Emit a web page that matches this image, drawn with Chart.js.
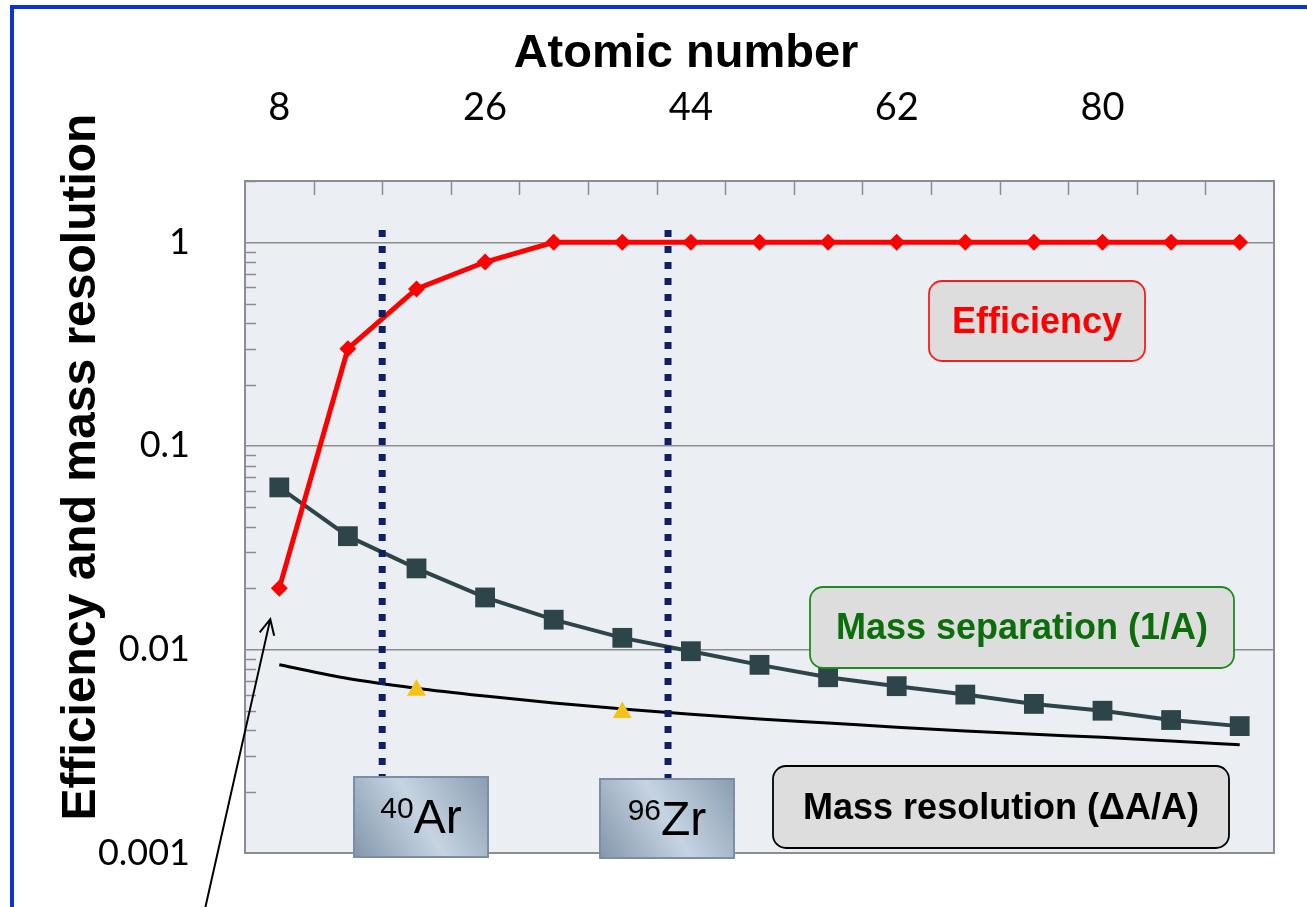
<!DOCTYPE html>
<html><head><meta charset="utf-8">
<script src="https://cdn.jsdelivr.net/npm/chart.js@4.4.1/dist/chart.umd.min.js"></script>
<style>html,body{margin:0;padding:0;background:#fff;overflow:hidden}</style>
</head><body>
<canvas id="c" width="1307" height="907"></canvas>
<script>
// ---- data ----
const atomicNumbers = [8, 14, 20, 26, 32, 38, 44, 50, 56, 62, 68, 74, 80, 86, 92];
const efficiency = [0.02, 0.30, 0.59, 0.80, 1, 1, 1, 1, 1, 1, 1, 1, 1, 1, 1];
const massSeparation = [0.0625, 0.036, 0.025, 0.018, 0.014, 0.0114, 0.0098, 0.0084, 0.0073, 0.0066, 0.006, 0.0054, 0.005, 0.0045, 0.0042];
const massResolution = [0.0084, 0.0072, 0.00645, 0.0059, 0.00545, 0.0051, 0.0048, 0.00455, 0.00435, 0.00415, 0.00398, 0.00383, 0.0037, 0.00355, 0.0034];
const measuredZ = [20, 38];
const measuredResolution = [0.0063, 0.0049];
const xTickLabels = [8, 26, 44, 62, 80];
const xMinorTicks = [11, 17, 23, 29, 35, 41, 47, 53, 59, 65, 71, 77, 83, 89];
const yTickValues = [0.001, 0.01, 0.1, 1];
const yTickLabels = ['0.001', '0.01', '0.1', '1'];
const markerZ = [17, 42];
const markerMass = ['40', '96'];
const markerElement = ['Ar', 'Zr'];
const xTitle = 'Atomic number';
const yTitle = 'Efficiency and mass resolution';
const seriesNames = ['Efficiency', 'Mass separation (1/A)', 'Mass resolution (\u0394A/A)'];

const SANS = "'Liberation Sans', Arial, sans-serif";

function pts(xs, ys) { return xs.map((x, i) => ({x: x, y: ys[i]})); }

const decor = {
  id: 'decor',
  beforeDraw(chart) {
    const ctx = chart.ctx, a = chart.chartArea;
    ctx.save();
    ctx.fillStyle = '#ffffff';
    ctx.fillRect(0, 0, chart.width, chart.height);
    ctx.fillStyle = '#ebeff4';
    ctx.fillRect(a.left, a.top, a.right - a.left, a.bottom - a.top);
    ctx.strokeStyle = '#0a34d2';
    ctx.lineWidth = 4;
    ctx.beginPath();
    ctx.moveTo(12, chart.height + 5);
    ctx.lineTo(12, 7);
    ctx.lineTo(chart.width + 5, 7);
    ctx.stroke();
    ctx.restore();
  },
  beforeDatasetsDraw(chart) {
    const ctx = chart.ctx, a = chart.chartArea;
    const xs = chart.scales.x, ys = chart.scales.y;
    ctx.save();
    ctx.strokeStyle = '#8c8c8c';
    ctx.lineWidth = 1.5;
    ctx.beginPath();
    for (let d = 0; d < yTickValues.length; d++) {
      for (let m = 2; m <= 9; m++) {
        const v = yTickValues[d] * m;
        if (v > ys.max) continue;
        const py = Math.round(ys.getPixelForValue(v)) + 0.5;
        ctx.moveTo(a.left, py);
        ctx.lineTo(a.left + 11, py);
      }
    }
    xMinorTicks.forEach(z => {
      const px = Math.round(xs.getPixelForValue(z)) + 0.5;
      ctx.moveTo(px, a.top);
      ctx.lineTo(px, a.top + 14);
    });
    ctx.stroke();
    ctx.restore();
  },
  afterDatasetsDraw(chart) {
    const ctx = chart.ctx, a = chart.chartArea;
    const xs = chart.scales.x, ys = chart.scales.y;
    ctx.save();
    ctx.strokeStyle = '#0d2160';
    ctx.lineWidth = 7;
    ctx.lineCap = 'butt';
    ctx.setLineDash([7, 9]);
    markerZ.forEach(z => {
      const px = xs.getPixelForValue(z);
      ctx.beginPath();
      ctx.moveTo(px, ys.getPixelForValue(1.15));
      ctx.lineTo(px, a.bottom - 75);
      ctx.stroke();
    });
    ctx.setLineDash([]);
    ctx.strokeStyle = '#8a8d96';
    ctx.lineWidth = 2;
    ctx.strokeRect(a.left, a.top, a.right - a.left, a.bottom - a.top);

    const boxes = [
      {l: a.left + 109, t: a.bottom - 76, w: 134, h: 80},
      {l: a.left + 355, t: a.bottom - 74, w: 134, h: 79}
    ];
    boxes.forEach((b, i) => {
      const g = ctx.createLinearGradient(b.l, b.t + b.h, b.l + b.w, b.t);
      g.addColorStop(0, '#8396ab');
      g.addColorStop(0.5, '#c6d4e2');
      g.addColorStop(1, '#8a9db2');
      ctx.fillStyle = g;
      ctx.fillRect(b.l, b.t, b.w, b.h);
      ctx.strokeStyle = '#7b8ea5';
      ctx.lineWidth = 2;
      ctx.strokeRect(b.l, b.t, b.w, b.h);
      ctx.fillStyle = '#000';
      ctx.textBaseline = 'alphabetic';
      ctx.textAlign = 'left';
      ctx.font = '30px ' + SANS;
      const sw = ctx.measureText(markerMass[i]).width;
      ctx.font = '48px ' + SANS;
      const ew = ctx.measureText(markerElement[i]).width;
      const x0 = b.l + (b.w - sw - ew) / 2;
      ctx.font = '30px ' + SANS;
      ctx.fillText(markerMass[i], x0, b.t + 41);
      ctx.font = '48px ' + SANS;
      ctx.fillText(markerElement[i], x0 + sw, b.t + 56);
    });

    const leg = [
      {l: 929, t: 281, w: 216, h: 80, stroke: '#ff1a1a', text: '#ff0000'},
      {l: 810, t: 587, w: 424, h: 81, stroke: '#1d8c1d', text: '#0b6e0b'},
      {l: 773, t: 766, w: 456, h: 82, stroke: '#000000', text: '#000000'}
    ];
    leg.forEach((b, i) => {
      ctx.beginPath();
      ctx.roundRect(b.l, b.t, b.w, b.h, 13);
      ctx.fillStyle = '#dddddd';
      ctx.fill();
      ctx.strokeStyle = b.stroke;
      ctx.lineWidth = 1.8;
      ctx.stroke();
      ctx.fillStyle = b.text;
      ctx.font = 'bold 36px ' + SANS;
      ctx.textAlign = 'center';
      ctx.textBaseline = 'middle';
      ctx.fillText(seriesNames[i], b.l + b.w / 2, b.t + b.h / 2 + 2);
    });

    ctx.fillStyle = '#000';
    ctx.font = 'bold 47px ' + SANS;
    ctx.textAlign = 'center';
    ctx.textBaseline = 'alphabetic';
    ctx.fillText(xTitle, 686, 67);
    ctx.save();
    ctx.translate(95, 467);
    ctx.rotate(-Math.PI / 2);
    ctx.font = 'bold 48px ' + SANS;
    ctx.fillText(yTitle, 0, 0);
    ctx.restore();

    const tx = xs.getPixelForValue(atomicNumbers[0]) - 9;
    const ty = ys.getPixelForValue(efficiency[0]) + 31;
    const sx = tx - 66, sy = chart.height + 5;
    const ang = Math.atan2(ty - sy, tx - sx);
    ctx.strokeStyle = '#000';
    ctx.lineWidth = 2;
    ctx.beginPath();
    ctx.moveTo(sx, sy);
    ctx.lineTo(tx, ty);
    const L = 17, sp = 0.45;
    ctx.moveTo(tx - L * Math.cos(ang - sp), ty - L * Math.sin(ang - sp));
    ctx.lineTo(tx, ty);
    ctx.lineTo(tx - L * Math.cos(ang + sp), ty - L * Math.sin(ang + sp));
    ctx.stroke();
    ctx.restore();
  }
};

new Chart(document.getElementById('c'), {
  type: 'line',
  data: {
    datasets: [
      {
        label: seriesNames[2], data: pts(atomicNumbers, massResolution),
        borderColor: '#000', borderWidth: 3, pointRadius: 0,
        cubicInterpolationMode: 'monotone', order: 4
      },
      {
        label: 'measured', data: pts(measuredZ, measuredResolution),
        showLine: false, pointStyle: 'triangle', pointRadius: 11,
        pointBackgroundColor: '#f5c21b', pointBorderColor: '#f5c21b', pointBorderWidth: 0, order: 3
      },
      {
        label: seriesNames[1], data: pts(atomicNumbers, massSeparation),
        borderColor: '#2d4449', borderWidth: 4, pointStyle: 'rect', pointRadius: 14,
        pointBackgroundColor: '#2d4449', pointBorderColor: '#2d4449', pointBorderWidth: 0, order: 2
      },
      {
        label: seriesNames[0], data: pts(atomicNumbers, efficiency),
        borderColor: '#ff0000', borderWidth: 5, pointStyle: 'rectRot', pointRadius: 8.5,
        pointBackgroundColor: '#ff0000', pointBorderColor: '#ff0000', pointBorderWidth: 0, order: 1
      }
    ]
  },
  options: {
    responsive: false, animation: false, devicePixelRatio: 1,
    layout: {padding: {left: 0, top: 0, right: 33, bottom: 54}},
    plugins: {legend: {display: false}, tooltip: {enabled: false}},
    scales: {
      x: {
        type: 'linear', position: 'top', min: 5, max: 95,
        afterBuildTicks: s => { s.ticks = xTickLabels.map(v => ({value: v})); },
        afterFit: s => { s.height = 181; s.paddingLeft = 0; s.paddingRight = 0; },
        grid: {display: false, drawTicks: false}, border: {display: false},
        ticks: {padding: 50, color: '#000', maxRotation: 0, autoSkip: false,
          font: {family: 'Lato', size: 38}, callback: v => String(v)}
      },
      y: {
        type: 'logarithmic', min: 0.001, max: 2,
        afterBuildTicks: s => { s.ticks = yTickValues.map(v => ({value: v})); },
        afterFit: s => { s.width = 245; s.paddingTop = 0; s.paddingBottom = 0; },
        grid: {color: '#8c8c8c', lineWidth: 1.5, drawTicks: false}, border: {display: false},
        ticks: {padding: 55, color: '#000', font: {family: 'Lato', size: 36},
          callback: v => { const i = yTickValues.findIndex(t => Math.abs(t - v) / t < 1e-6); return i >= 0 ? yTickLabels[i] : ''; }}
      }
    }
  },
  plugins: [decor]
});
</script>
</body></html>
